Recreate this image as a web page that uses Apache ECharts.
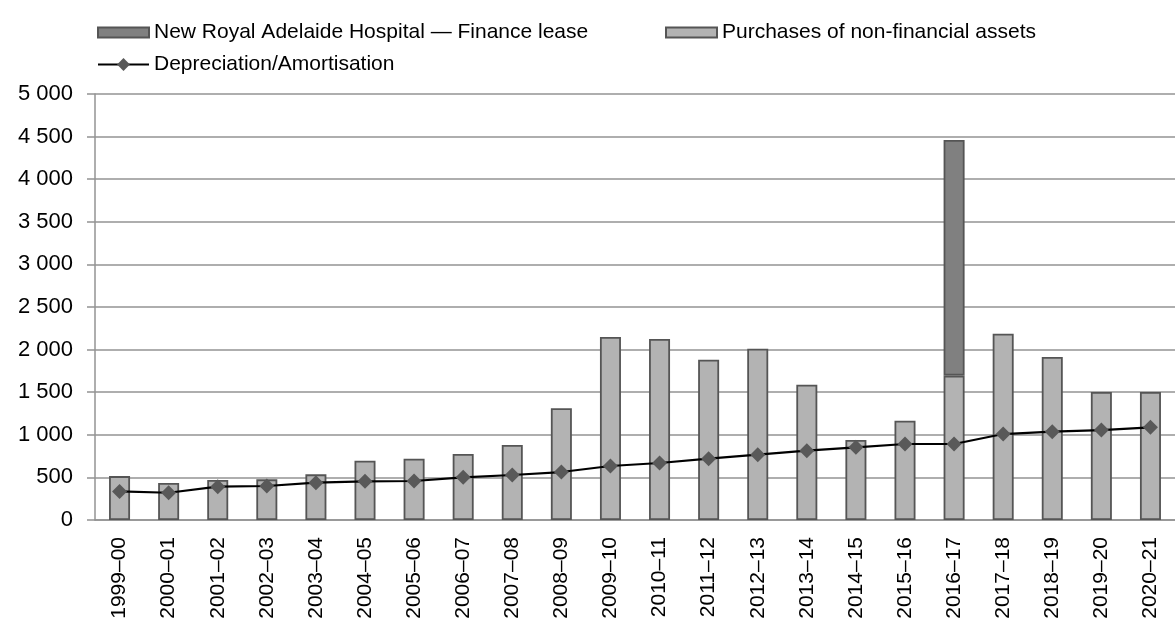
<!DOCTYPE html>
<html>
<head>
<meta charset="utf-8">
<script src="https://cdn.jsdelivr.net/npm/echarts@6/dist/echarts.min.js"></script>
<style>
  html, body { margin: 0; padding: 0; background: #fff; }
  #chart { width: 1175px; height: 626px; }
</style>
</head>
<body>
<div id="chart"></div>
<script>
// Financial years
const categories = [
  '1999–00', '2000–01', '2001–02', '2002–03', '2003–04', '2004–05', '2005–06',
  '2006–07', '2007–08', '2008–09', '2009–10', '2010–11', '2011–12', '2012–13',
  '2013–14', '2014–15', '2015–16', '2016–17', '2017–18', '2018–19', '2019–20', '2020–21'
];

// Purchases of non-financial assets ($m)
const purchases = [
  515, 435, 470, 477, 536, 696, 720, 775, 880, 1311, 2148,
  2124, 1882, 2011, 1588, 939, 1166, 1694, 2187, 1913, 1502, 1502
];

// New Royal Adelaide Hospital finance lease ($m), only in 2016–17
const financeLease = [
  null, null, null, null, null, null, null, null, null, null, null,
  null, null, null, null, null, null, 2766, null, null, null, null
];

// Depreciation/Amortisation ($m)
const depreciation = [
  335, 320, 391, 399, 438, 454, 458, 501, 528, 563, 634,
  669, 720, 767, 814, 853, 892, 892, 1009, 1037, 1056, 1088
];

// Value axis ticks
const yTicks = [0, 500, 1000, 1500, 2000, 2500, 3000, 3500, 4000, 4500, 5000];

const NAME_LEASE = 'New Royal Adelaide Hospital — Finance lease';
const NAME_PURCH = 'Purchases of non-financial assets';
const NAME_DEP = 'Depreciation/Amortisation';

const FONT = 'Liberation Sans, Arial, sans-serif';
const gridColor = '#939393';
const barBorder = '#555555';

function fmt(v) {
  return String(v).replace(/\B(?=(\d{3})+(?!\d))/g, ' ');
}

const legendText = { fontSize: 21, color: '#000', fontFamily: FONT };

const chart = echarts.init(document.getElementById('chart'), null, { renderer: 'canvas' });

chart.setOption({
  animation: false,
  backgroundColor: '#fff',
  textStyle: { fontFamily: FONT },
  legend: [
    {
      data: [{ name: NAME_LEASE, icon: 'rect' }], left: 92, top: 17, itemWidth: 51, itemHeight: 10,
      itemGap: 8, textStyle: legendText, selectedMode: false
    },
    {
      data: [{ name: NAME_PURCH, icon: 'rect' }], left: 660, top: 17, itemWidth: 51, itemHeight: 10,
      itemGap: 8, textStyle: legendText, selectedMode: false
    },
    {
      data: [NAME_DEP], left: 92, top: 49, itemWidth: 51, itemHeight: 16,
      itemGap: 8, textStyle: legendText, selectedMode: false
    }
  ],
  grid: { left: 95, top: 94, width: 1093, height: 426, containLabel: false },
  xAxis: {
    type: 'category',
    data: categories,
    axisLine: { lineStyle: { color: gridColor, width: 1.5 } },
    axisTick: { show: false },
    axisLabel: {
      rotate: 90, fontSize: 21, color: '#000', margin: 17, fontFamily: FONT,
      interval: 0
    }
  },
  yAxis: {
    type: 'value',
    min: yTicks[0],
    max: yTicks[yTicks.length - 1],
    interval: yTicks[1] - yTicks[0],
    axisLine: { show: true, lineStyle: { color: gridColor, width: 1.5 } },
    axisTick: { show: true, length: 8, lineStyle: { color: gridColor, width: 1.5 } },
    splitLine: { lineStyle: { color: gridColor, width: 1.5 } },
    axisLabel: {
      fontSize: 22, color: '#000', margin: 22, fontFamily: FONT,
      formatter: fmt
    }
  },
  series: [
    {
      name: NAME_PURCH,
      type: 'bar',
      stack: 'capex',
      data: purchases,
      barWidth: 21,
      itemStyle: { color: '#b3b3b3', borderColor: barBorder, borderWidth: 1.8 }
    },
    {
      name: NAME_LEASE,
      type: 'bar',
      stack: 'capex',
      data: financeLease,
      barWidth: 21,
      itemStyle: { color: '#808080', borderColor: barBorder, borderWidth: 1.8 }
    },
    {
      name: NAME_DEP,
      type: 'line',
      data: depreciation,
      z: 5,
      symbol: 'diamond',
      symbolSize: 15,
      lineStyle: { color: '#000', width: 2.2 },
      itemStyle: { color: '#595959' }
    }
  ]
});
</script>
</body>
</html>
